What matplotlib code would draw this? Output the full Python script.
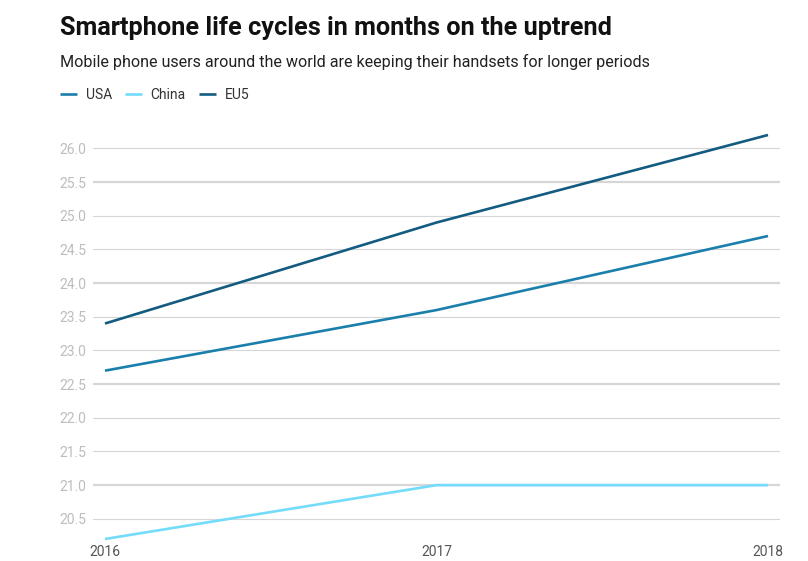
import numpy as np
import matplotlib.pyplot as plt

plt.rcParams['font.family'] = ['Roboto', 'DejaVu Sans']

# 数据
years = [2016, 2017, 2018]
usa = [22.7, 23.6, 24.7]
china = [20.2, 21.0, 21.0]
eu5 = [23.4, 24.9, 26.2]
series = [('USA', usa, '#1a7fab'), ('China', china, '#72dcfa'), ('EU5', eu5, '#135b80')]

fig = plt.figure(figsize=(8.08, 5.61), dpi=100)
ax = fig.add_axes([93 / 808, 1 - 539 / 561, (780 - 93) / 808, (539 - 135) / 561])

# 网格线: 每0.5一条, 每1.5加粗
for v in np.arange(20.5, 26.01, 0.5):
    major = abs(v / 1.5 - round(v / 1.5)) < 1e-6
    ax.axhline(v, color='#d6d6d6', lw=1.6 if major else 0.8, zorder=1)

for name, vals, c in series:
    ax.plot(years, vals, color=c, lw=1.9, label=name, zorder=3, clip_on=False,
            solid_capstyle='butt')

ax.set_xlim(2016 - 12 / 331.5, 2018 + 12 / 331.5)
ax.set_ylim(20.2, 26.2)
ax.set_yticks(np.arange(20.5, 26.01, 0.5))
ax.set_yticklabels(['{:.1f}'.format(v) for v in np.arange(20.5, 26.01, 0.5)])
ax.set_xticks(years)
ax.set_xticklabels([str(y) for y in years])
ax.tick_params(axis='y', length=0, pad=5, labelsize=10, labelcolor='#bdbdbd')
ax.tick_params(axis='x', length=0, pad=4, labelsize=10, labelcolor='#555555')
for s in ax.spines.values():
    s.set_visible(False)

fig.text(60 / 808, 1 - 28 / 561, 'Smartphone life cycles in months on the uptrend',
         fontsize=18.2, fontweight='bold', color='#111111', va='center')
fig.text(60 / 808, 1 - 62 / 561,
         'Mobile phone users around the world are keeping their handsets for longer periods',
         fontsize=11.6, color='#222222', va='center')
fig.legend(loc='center left', bbox_to_anchor=(60 / 808, 1 - 95 / 561), ncol=3,
           frameon=False, fontsize=10, handlelength=1.25, handletextpad=0.6,
           columnspacing=0.95, borderpad=0, borderaxespad=0, labelcolor='#333333')

fig.savefig('out.png', dpi=100)
